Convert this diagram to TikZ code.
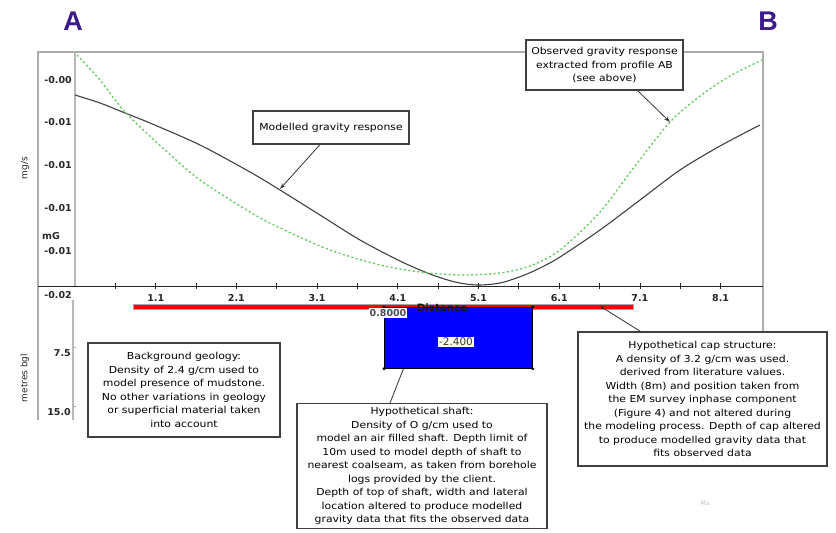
\documentclass[tikz,border=0pt]{standalone}
\usepackage{fontspec}
\setmainfont{DejaVu Sans}
\newfontfamily\arialfont{Liberation Sans}
\newfontfamily\boxfont[FakeStretch=1.13]{DejaVu Sans}
\usetikzlibrary{arrows.meta}
\definecolor{purpleAB}{RGB}{60,25,140}
\definecolor{obsgreen}{RGB}{90,200,90}
\tikzset{
  box/.style={draw=black!75, line width=1.1pt, fill=white, align=center,
    font=\boxfont\fontsize{9.6}{13.5}\selectfont, inner sep=3pt},
  axlab/.style={font=\bfseries\fontsize{9.5}{10}\selectfont, text=black!85, inner sep=1pt},
  frameline/.style={draw=gray!65, line width=1.2pt},
  pointer/.style={draw=black!80, line width=0.8pt},
  arrowptr/.style={pointer, -{Stealth[length=6pt,width=4pt]}},
}
\begin{document}
\begin{tikzpicture}[x=1pt,y=-1pt]
\useasboundingbox (0,0) rectangle (836,533);
% A and B
\node[text=purpleAB, font=\arialfont\bfseries\fontsize{27}{27}\selectfont] (A) at (73,21) {A};
\node[text=purpleAB, font=\arialfont\bfseries\fontsize{27}{27}\selectfont] (B) at (768,21) {B};
% frame
\draw[frameline] (38,420) -- (38,52) -- (763,52) -- (763,332);
\draw[draw=gray!55, line width=1.5pt] (75,52) -- (75,286);
\draw[draw=gray!55, line width=1.5pt] (73,300) -- (73,420);
\draw[draw=gray!70, line width=0.8pt] (73,347) -- (76,347) (73,406) -- (76,406);
% y labels
\node[axlab, anchor=east] (y0) at (73,80) {-0.00};
\node[axlab, anchor=east] (y1) at (73,122) {-0.01};
\node[axlab, anchor=east] (y2) at (73,165) {-0.01};
\node[axlab, anchor=east] (y3) at (73,208) {-0.01};
\node[axlab, anchor=east] (y4) at (73,251) {-0.01};
\node[axlab, anchor=east] (y5) at (73,295) {-0.02};
\node[axlab] (mG) at (51,236) {mG};
\node[rotate=90, font=\fontsize{9}{10}\selectfont, text=black!85] (mgs) at (25,168) {mg/s};
\node[rotate=90, font=\fontsize{9}{10}\selectfont, text=black!85] (mbgl) at (25,378) {metres bgl};
\node[axlab, anchor=east] (d75) at (72,353) {7.5};
\node[axlab, anchor=east] (d15) at (72,412) {15.0};
% curves
\draw[black!75, line width=1.1pt] plot[smooth, tension=0.5] coordinates {(75,95) (100,103) (125,113) (150,123) (200,145) (250,172) (280,190) (320,215) (360,240) (400,261) (430,274) (455,282) (477,285) (500,283) (522,276) (540,268) (560,257) (600,230) (640,200) (680,170) (720,146) (760,125)};
\draw[obsgreen, line width=1.3pt, dash pattern=on 2pt off 2.5pt] plot[smooth, tension=0.5] coordinates {(77,55) (100,80) (125,112) (165,150) (200,180) (250,212) (280,228) (330,250) (380,265) (420,272) (460,275) (500,273) (530,266) (560,250) (600,212) (635,166) (670,122) (700,96) (730,76) (762,60)};
% x axis
\draw[black!85, line width=1pt] (38,286) -- (763,286);
\foreach \i in {1,...,16} { \draw[black!85, line width=0.8pt] (75+\i*40.35,283) -- (75+\i*40.35,289); }
\foreach \v [count=\k] in {1.1,2.1,3.1,4.1,5.1,6.1,7.1,8.1} {
  \node[axlab] (xl\k) at (75+\k*80.7,298) {\v};
}
% cap bar and shaft
\node[draw=gray!70, fill=red, line width=0.6pt, minimum width=500pt, minimum height=5pt, inner sep=0pt, anchor=north west] (capbar) at (133,304) {};
\node[draw=black, fill=blue, line width=0.8pt, minimum width=148pt, minimum height=61pt, inner sep=0pt, anchor=north west] (shaft) at (384,307) {};
\foreach \c in {north west,north east,south west,south east} { \fill (shaft.\c) circle (1.6pt); }
\node[fill=white, font=\bfseries\fontsize{9.5}{9.5}\selectfont, text=black!70, inner sep=1pt] (lab08) at (388,313) {0.8000};
\node[font=\bfseries\fontsize{10.2}{10}\selectfont, text=black!90, inner sep=0pt] (dist) at (442,308) {Distance};
\node[fill=white, font=\fontsize{10.5}{10.5}\selectfont, text=black!80, inner sep=1.5pt] (lab24) at (456,342) {-2.400};
% boxes
\node[box, minimum width=156pt, minimum height=33pt] (mod) at (331,127.5) {Modelled gravity response};
\node[box, minimum width=157pt, minimum height=50pt] (obs) at (604.5,65) {Observed gravity response\\extracted from profile AB\\(see above)};
\node[box, minimum width=192pt, minimum height=94pt] (bg) at (184,390) {Background geology:\\Density of 2.4 g/cm used to\\model presence of mudstone.\\No other variations in geology\\or superficial material taken\\into account};
\node[box, minimum width=250pt, anchor=north, inner ysep=4pt] (shbox) at (422,403) {Hypothetical shaft:\\Density of O g/cm used to\\model an air filled shaft. Depth limit of\\10m used to model depth of shaft to\\nearest coalseam, as taken from borehole\\logs provided by the client.\\Depth of top of shaft, width and lateral\\location altered to produce modelled\\gravity data that fits the observed data};
\node[box, minimum width=249pt, minimum height=134pt] (capbox) at (702.5,399) {Hypothetical cap structure:\\A density of 3.2 g/cm was used.\\derived from literature values.\\Width (8m) and position taken from\\the EM survey inphase component\\(Figure 4) and not altered during\\the modeling process. Depth of cap altered\\to produce modelled gravity data that\\fits observed data};
% pointers
\coordinate (modpt) at (280,189);
\coordinate (obspt) at (670,122);
\draw[arrowptr] ([xshift=-11pt]mod.south) -- (modpt);
\draw[arrowptr] ([xshift=33pt]obs.south) -- (obspt);
\coordinate (shpt) at ([xshift=-55pt]shaft.south);
\draw[pointer] ([xshift=-32pt]shbox.north) -- (shpt);
\coordinate (cappt) at ([xshift=219pt,yshift=2pt]capbar.south);
\fill[black!85] (cappt) circle (1.6pt);
\draw[pointer] ([xshift=-62pt]capbox.north) -- (cappt);
% faint mark
\node[text=gray!50, font=\fontsize{6}{6}\selectfont] (mark) at (705,503) {Ma};
\end{tikzpicture}
\end{document}
